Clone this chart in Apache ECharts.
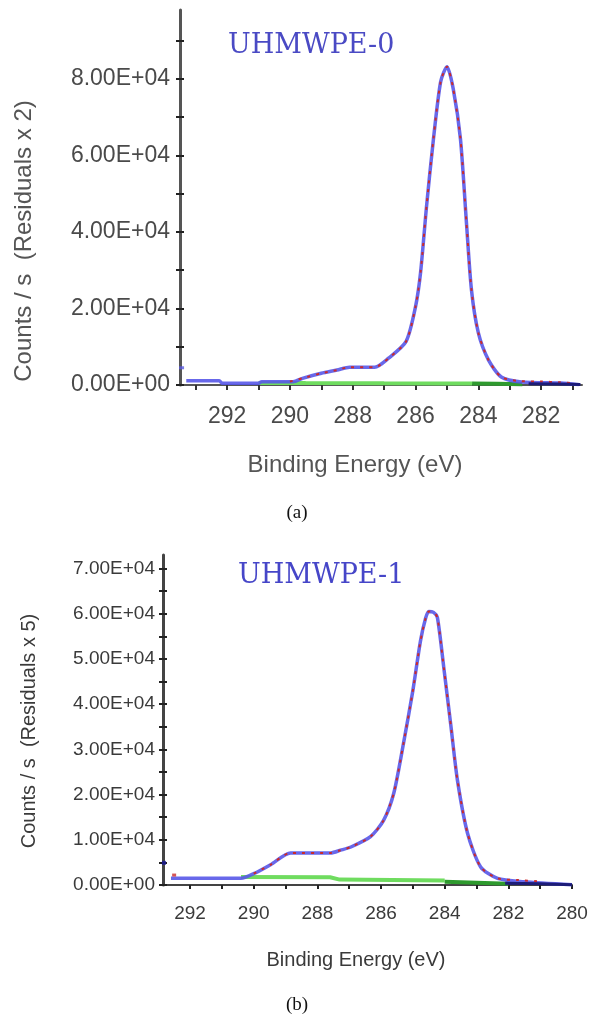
<!DOCTYPE html>
<html>
<head>
<meta charset="utf-8">
<script src="https://cdn.jsdelivr.net/npm/echarts@6/dist/echarts.min.js"></script>
<style>
html,body{margin:0;padding:0;background:#fff;}
#chart{width:592px;height:1024px;}
</style>
</head>
<body>
<div id="chart"></div>
<script>
// ---------- Panel (a) UHMWPE-0 ----------
const aEnvEnergy = [293.3, 292.25, 292.15, 291.0, 290.9, 289.9, 289.6, 289.0, 288.5, 288.1, 287.3, 286.86, 286.3, 286.0, 285.84, 285.65, 285.43, 285.2, 285.0, 284.8, 284.57, 284.38, 284.22, 284.0, 283.68, 283.27, 282.63, 281.37, 280.8];
const aEnvCounts = [1100, 1100, 450, 450, 870, 870, 1750, 3070, 3900, 4650, 4650, 7000, 11400, 20500, 29400, 46700, 64300, 79300, 83200, 77400, 64300, 42500, 24900, 13600, 6560, 2100, 790, 500, 100];
const aFitEnergy = [290.0, 289.6, 289.0, 288.5, 288.1, 287.3, 286.86, 286.3, 286.0, 285.84, 285.65, 285.43, 285.2, 285.0, 284.8, 284.57, 284.38, 284.22, 284.0, 283.68, 283.27, 282.63, 282.0, 281.4, 281.0];
const aFitCounts = [900, 1750, 3070, 3900, 4650, 4650, 7000, 11400, 20500, 29400, 46700, 64300, 79300, 83200, 77400, 64300, 42500, 24900, 13600, 6560, 2100, 1000, 900, 700, 500];
const aBaseEnergy = [291.0, 289.5, 287.0, 285.0, 284.2];
const aBaseCounts = [550, 500, 450, 420, 380];
const aBaseDarkEnergy = [284.2, 283.4, 282.6];
const aBaseDarkCounts = [380, 300, 200];
const aTailEnergy = [282.4, 281.5, 280.75];
const aTailCounts = [350, 250, 100];
const aMarker = [[293.45, 4500]];
const aXTicks = [281, 282, 283, 284, 285, 286, 287, 288, 289, 290, 291, 292, 293];
const aXLabels = [282, 284, 286, 288, 290, 292];
const aYTicks = [0, 10000, 20000, 30000, 40000, 50000, 60000, 70000, 80000, 90000];
const aYLabels = [0, 20000, 40000, 60000, 80000];

// ---------- Panel (b) UHMWPE-1 ----------
const bEnvEnergy = [292.6, 290.4, 290.0, 289.47, 288.84, 287.58, 287.27, 286.95, 286.33, 285.92, 285.6, 285.29, 285.0, 284.76, 284.6, 284.5, 284.35, 284.23, 284.03, 283.8, 283.6, 283.28, 282.87, 282.34, 281.52, 280.0];
const bEnvCounts = [1500, 1500, 2500, 4500, 7100, 7100, 7700, 8400, 10700, 14300, 20300, 31500, 43000, 54000, 59000, 60500, 60300, 59200, 48200, 34900, 23200, 11400, 4000, 1470, 730, 50];
const bFitEnergy = [290.0, 289.47, 288.84, 287.58, 287.27, 286.95, 286.33, 285.92, 285.6, 285.29, 285.0, 284.76, 284.6, 284.5, 284.35, 284.23, 284.03, 283.8, 283.6, 283.28, 282.87, 282.34, 281.7, 281.0];
const bFitCounts = [2500, 4500, 7100, 7100, 7700, 8400, 10700, 14300, 20300, 31500, 43000, 54000, 59000, 60500, 60300, 59200, 48200, 34900, 23200, 11400, 4000, 1470, 1100, 800];
const bBaseEnergy = [290.4, 287.6, 287.3, 284.0];
const bBaseCounts = [1750, 1700, 1200, 1000];
const bBaseDarkEnergy = [284.0, 283.0, 282.0];
const bBaseDarkCounts = [700, 500, 300];
const bTailEnergy = [282.1, 281.0, 280.0];
const bTailCounts = [400, 250, 50];
const bMarker = [[292.82, 4900]];
const bMarkerRed = [[292.5, 2200]];
const bXTicks = [280, 281, 282, 283, 284, 285, 286, 287, 288, 289, 290, 291, 292];
const bXLabels = [280, 282, 284, 286, 288, 290, 292];
const bYTicks = [0, 5000, 10000, 15000, 20000, 25000, 30000, 35000, 40000, 45000, 50000, 55000, 60000, 65000, 70000];
const bYLabels = [0, 10000, 20000, 30000, 40000, 50000, 60000, 70000];

function zip(xs, ys) { return xs.map((x, i) => [x, ys[i]]); }
function sci(v) {
  if (v === 0) return '0.00E+00';
  return (v / 1e4).toFixed(2) + 'E+04';
}
function evenInt(list) {
  return function (v) {
    for (const t of list) if (Math.abs(v - t) < 1e-6) return String(t);
    return '';
  };
}
function yFmt(list) {
  return function (v) {
    for (const t of list) if (Math.abs(v - t) < 1e-6) return sci(t);
    return '';
  };
}

const chart = echarts.init(document.getElementById('chart'), null, { renderer: 'canvas' });

const BLUE = 'rgba(88,88,232,0.9)';
const RED = '#cc2a2a';
const NAVY = '#1c1c78';
const GREEN = '#6fdc5f';
const DGREEN = '#2e9a2e';

function lineSeries(data, xi, yi, color, width, type, z, smooth) {
  return {
    type: 'line', xAxisIndex: xi, yAxisIndex: yi, data: data,
    showSymbol: false, symbol: 'none', smooth: smooth ? 0.25 : false,
    lineStyle: { color: color, width: width, type: type || 'solid' },
    z: z, animation: false, silent: true
  };
}

const option = {
  animation: false,
  backgroundColor: '#ffffff',
  grid: [
    { left: 180, right: 10, top: 10, bottom: 639, containLabel: false },
    { left: 163, right: 20, top: 555, bottom: 139, containLabel: false }
  ],
  xAxis: [
    {
      type: 'value', gridIndex: 0, inverse: true, min: 280.7, max: 293.5,
      axisLine: { show: true, lineStyle: { color: '#555', width: 2 } },
      axisTick: { show: true, length: 5, inside: false, customValues: aXTicks, lineStyle: { color: '#333', width: 2 } },
      axisLabel: { show: true, customValues: aXLabels, formatter: evenInt(aXLabels), margin: 20,
        color: '#4a4a4a', fontSize: 23, fontFamily: 'Liberation Sans, Arial, sans-serif' },
      splitLine: { show: false }
    },
    {
      type: 'value', gridIndex: 1, inverse: true, min: 280, max: 292.85,
      axisLine: { show: true, lineStyle: { color: '#444', width: 2 } },
      axisTick: { show: true, length: 4, inside: false, customValues: bXTicks, lineStyle: { color: '#222', width: 2 } },
      axisLabel: { show: true, customValues: bXLabels, formatter: evenInt(bXLabels), margin: 19,
        color: '#3a3a3a', fontSize: 19, fontFamily: 'Liberation Sans, Arial, sans-serif' },
      splitLine: { show: false }
    }
  ],
  yAxis: [
    {
      type: 'value', gridIndex: 0, position: 'left', min: 0, max: 98000, interval: 10000,
      axisLine: { show: true, lineStyle: { color: '#555', width: 3 } },
      axisTick: { show: true, length: 4, inside: false, customValues: aYTicks, lineStyle: { color: '#222', width: 2 } },
      axisLabel: { show: true, customValues: aYLabels, formatter: yFmt(aYLabels), margin: 10,
        color: '#4a4a4a', fontSize: 23, fontFamily: 'Liberation Sans, Arial, sans-serif' },
      splitLine: { show: false }
    },
    {
      type: 'value', gridIndex: 0, position: 'left', offset: 0, min: 0, max: 98000, interval: 10000,
      axisLine: { show: false },
      axisTick: { show: true, length: 4, inside: true, customValues: aYTicks, lineStyle: { color: '#222', width: 2 } },
      axisLabel: { show: false },
      splitLine: { show: false }
    },
    {
      type: 'value', gridIndex: 1, position: 'left', min: 0, max: 73000, interval: 5000,
      axisLine: { show: true, lineStyle: { color: '#444', width: 3 } },
      axisTick: { show: true, length: 4, inside: false, customValues: bYTicks, lineStyle: { color: '#222', width: 2 } },
      axisLabel: { show: true, customValues: bYLabels, formatter: yFmt(bYLabels), margin: 8,
        color: '#3a3a3a', fontSize: 19, fontFamily: 'Liberation Sans, Arial, sans-serif' },
      splitLine: { show: false }
    },
    {
      type: 'value', gridIndex: 1, position: 'left', offset: 0, min: 0, max: 73000, interval: 5000,
      axisLine: { show: false },
      axisTick: { show: true, length: 4, inside: true, customValues: bYTicks, lineStyle: { color: '#222', width: 2 } },
      axisLabel: { show: false },
      splitLine: { show: false }
    }
  ],
  series: [
    // panel a
    lineSeries(zip(aBaseEnergy, aBaseCounts), 0, 0, GREEN, 4, 'solid', 2, false),
    lineSeries(zip(aBaseDarkEnergy, aBaseDarkCounts), 0, 0, DGREEN, 4, 'solid', 2, false),
    lineSeries(zip(aEnvEnergy, aEnvCounts), 0, 0, BLUE, 3.5, 'solid', 3, true),
    lineSeries(zip(aFitEnergy, aFitCounts), 0, 0, RED, 2, [3, 6], 4, true),
    lineSeries(zip(aTailEnergy, aTailCounts), 0, 0, NAVY, 3, 'solid', 5, false),
    { type: 'scatter', xAxisIndex: 0, yAxisIndex: 0, data: aMarker, symbol: 'rect', symbolSize: [5, 3],
      itemStyle: { color: '#5a5ae0' }, z: 6, silent: true },
    // panel b
    lineSeries(zip(bBaseEnergy, bBaseCounts), 1, 2, GREEN, 4, 'solid', 2, false),
    lineSeries(zip(bBaseDarkEnergy, bBaseDarkCounts), 1, 2, DGREEN, 4, 'solid', 2, false),
    lineSeries(zip(bEnvEnergy, bEnvCounts), 1, 2, BLUE, 3.5, 'solid', 3, true),
    lineSeries(zip(bFitEnergy, bFitCounts), 1, 2, RED, 2, [3, 6], 4, true),
    lineSeries(zip(bTailEnergy, bTailCounts), 1, 2, NAVY, 3, 'solid', 5, false),
    { type: 'scatter', xAxisIndex: 1, yAxisIndex: 2, data: bMarker, symbol: 'rect', symbolSize: [4, 4],
      itemStyle: { color: '#1c1c9a' }, z: 6, silent: true },
    { type: 'scatter', xAxisIndex: 1, yAxisIndex: 2, data: bMarkerRed, symbol: 'rect', symbolSize: [4, 3],
      itemStyle: { color: '#cc2a2a' }, z: 6, silent: true }
  ],
  graphic: [
    { type: 'text', left: 228, top: 32, style: { text: 'UHMWPE-0', fill: '#4a4ac4', font: '27px "DejaVu Serif", serif' } },
    { type: 'text', left: 238, top: 562, style: { text: 'UHMWPE-1', fill: '#4646c8', font: '27px "DejaVu Serif", serif' } },
    { type: 'text', x: 24, y: 241, rotation: Math.PI / 2,
      style: { text: 'Counts / s  (Residuals x 2)', fill: '#555', font: '24px "Liberation Sans", Arial, sans-serif', align: 'center', verticalAlign: 'middle' } },
    { type: 'text', x: 29, y: 731, rotation: Math.PI / 2,
      style: { text: 'Counts / s  (Residuals x 5)', fill: '#3a3a3a', font: '20px "Liberation Sans", Arial, sans-serif', align: 'center', verticalAlign: 'middle' } },
    { type: 'text', x: 355, y: 465,
      style: { text: 'Binding Energy (eV)', fill: '#555', font: '24px "Liberation Sans", Arial, sans-serif', align: 'center', verticalAlign: 'middle' } },
    { type: 'text', x: 356, y: 960,
      style: { text: 'Binding Energy (eV)', fill: '#3a3a3a', font: '20px "Liberation Sans", Arial, sans-serif', align: 'center', verticalAlign: 'middle' } },
    { type: 'text', x: 297, y: 513,
      style: { text: '(a)', fill: '#111', font: '19px "Liberation Serif", "Times New Roman", serif', align: 'center', verticalAlign: 'middle' } },
    { type: 'text', x: 297, y: 1005,
      style: { text: '(b)', fill: '#111', font: '19px "Liberation Serif", "Times New Roman", serif', align: 'center', verticalAlign: 'middle' } }
  ]
};
chart.setOption(option);
</script>
</body>
</html>
